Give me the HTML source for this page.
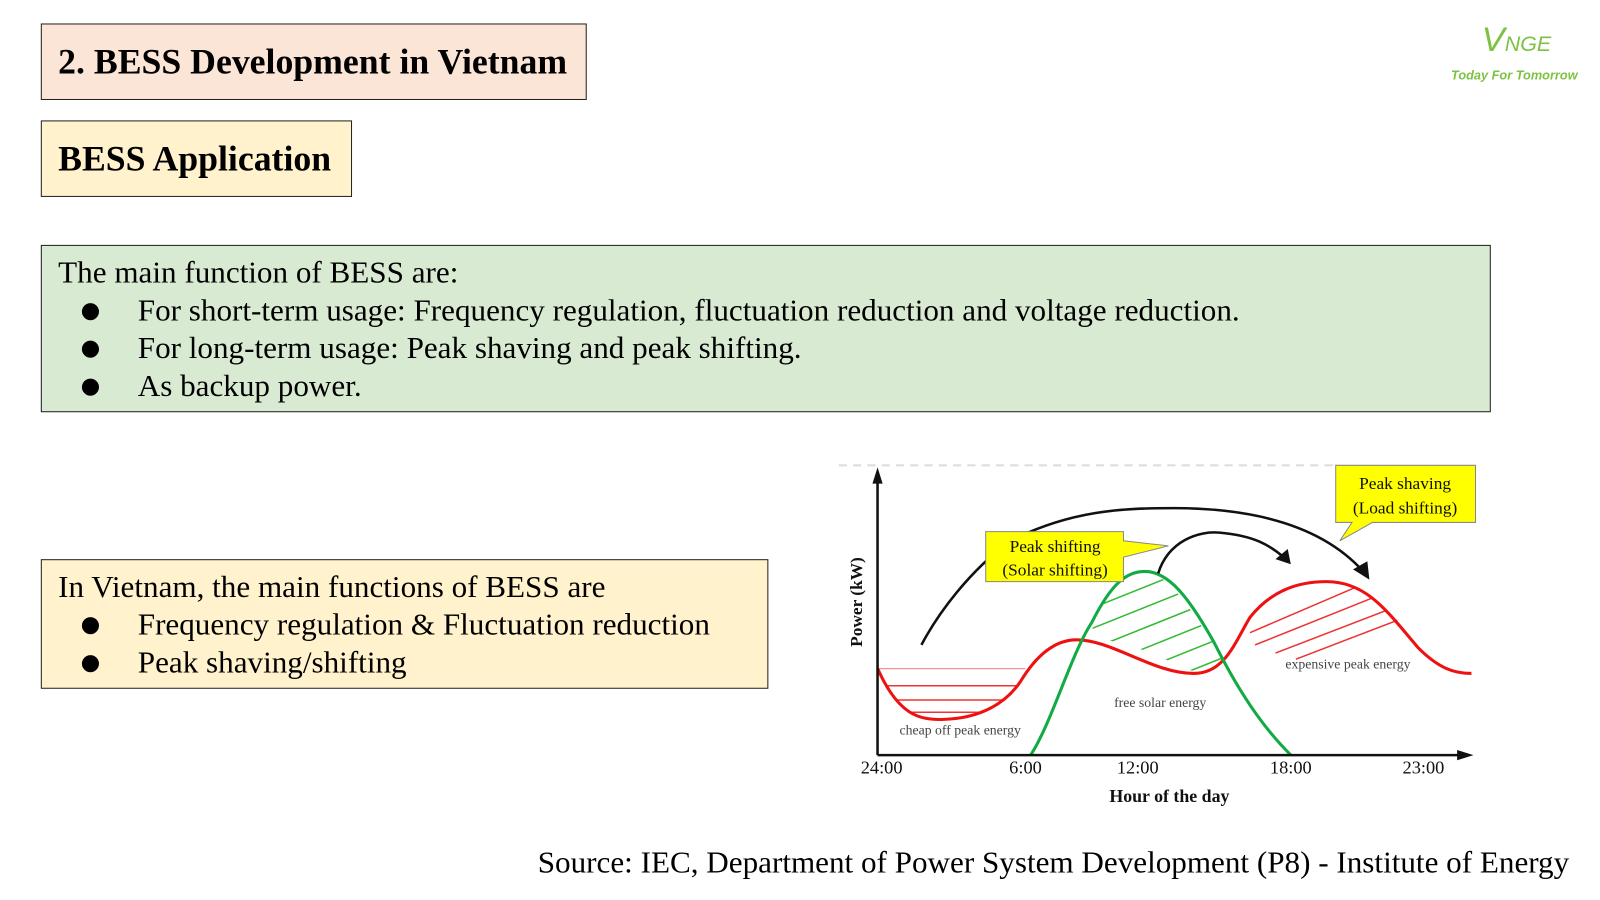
<!DOCTYPE html>
<html><head><meta charset="utf-8"><style>
body{margin:0;width:1600px;height:900px;background:#fff;overflow:hidden;font-family:"Liberation Serif",serif;color:#000}
#w{position:absolute;left:0;top:0;width:1568px;height:882px;transform:scale(1.0204);transform-origin:0 0}
.b{position:absolute;border:1.5px solid #222;box-sizing:border-box}
.t{font-weight:bold;font-size:35px;padding-left:16px}
.txt{font-size:30.5px;line-height:37px;padding:8px 16px}
.li{position:relative;padding-left:78px}
.li:before{content:"●";position:absolute;left:22px;font-size:22px;font-family:"DejaVu Sans",sans-serif}
</style></head><body><div id="w">
<div class="b t" style="left:40px;top:23px;width:535px;height:75px;background:#fbe5d6;line-height:73px">2. BESS Development in Vietnam</div>
<div class="b t" style="left:40px;top:118px;width:305px;height:75px;background:#fff2cc;line-height:73px">BESS Application</div>
<div class="b txt" style="left:40px;top:240px;width:1421px;height:164px;background:#d9ead3;padding-top:8px">
<div>The main function of BESS are:</div>
<div class="li">For short-term usage: Frequency regulation, fluctuation reduction and voltage reduction.</div>
<div class="li">For long-term usage: Peak shaving and peak shifting.</div>
<div class="li">As backup power.</div></div>
<div class="b txt" style="left:40px;top:548px;width:713px;height:127px;background:#fff2cc;padding-top:8px">
<div>In Vietnam, the main functions of BESS are</div>
<div class="li">Frequency regulation &amp; Fluctuation reduction</div>
<div class="li">Peak shaving/shifting</div></div>
<div style="position:absolute;left:1452px;top:20px;color:#7dc242;font-family:'Liberation Sans',sans-serif;font-style:italic;font-size:34px">V<span style="font-size:21px">NGE</span></div>
<div style="position:absolute;left:1422px;top:67px;color:#7dc242;font-family:'Liberation Sans',sans-serif;font-style:italic;font-weight:bold;font-size:12.5px">Today For Tomorrow</div>
<div style="position:absolute;left:527px;top:828px;font-size:30.5px;white-space:nowrap">Source: IEC, Department of Power System Development (P8) - Institute of Energy</div>
<svg style="position:absolute;left:0;top:0" width="1568" height="882">
<defs>
<clipPath id="cl"><path d="M860,655 C880,700 900,706 925,705 C960,704 990,690 1005,655 Z"/></clipPath>
<clipPath id="cg"><path d="M1068,626 C1080,580 1100,560 1120,560 C1150,560 1180,620 1205,655 C1185,660 1165,660 1150,650 C1120,635 1090,626 1068,626 Z"/></clipPath>
<clipPath id="cr"><path d="M1222,612 C1240,585 1270,570 1300,570 C1330,570 1355,590 1380,620 L1300,650 L1225,650 Z"/></clipPath>
</defs>
<line x1="822" y1="456" x2="1310" y2="456" stroke="#ddd" stroke-width="2" stroke-dasharray="8,6"/>
<g clip-path="url(#cl)" stroke="#e33" stroke-width="1.5"><line x1="860" y1="655" x2="1005" y2="655"/><line x1="860" y1="672" x2="1005" y2="672"/><line x1="860" y1="686" x2="1005" y2="686"/><line x1="860" y1="698" x2="1005" y2="698"/></g>
<g clip-path="url(#cg)" stroke="#3b3" stroke-width="1.5"><line x1="1060" y1="600" x2="1160" y2="560"/><line x1="1060" y1="620" x2="1180" y2="572"/><line x1="1080" y1="632" x2="1195" y2="586"/><line x1="1100" y1="644" x2="1210" y2="600"/><line x1="1120" y1="656" x2="1220" y2="616"/><line x1="1140" y1="668" x2="1230" y2="632"/></g>
<g clip-path="url(#cr)" stroke="#e33" stroke-width="1.5"><line x1="1225" y1="620" x2="1330" y2="575"/><line x1="1230" y1="632" x2="1360" y2="580"/><line x1="1250" y1="640" x2="1380" y2="590"/><line x1="1270" y1="646" x2="1390" y2="600"/></g>
<path d="M860,655 C880,700 900,706 925,705 C960,704 985,690 1000,668 C1020,635 1040,627 1055,627 C1090,627 1130,660 1170,660 C1200,660 1210,630 1225,605 C1245,580 1270,570 1300,570 C1340,570 1360,600 1390,635 C1410,655 1425,660 1442,660" fill="none" stroke="#e11" stroke-width="3"/>
<path d="M1010,740 C1030,710 1050,640 1070,610 C1090,570 1105,560 1122,560 C1145,560 1165,585 1190,630 C1220,690 1245,720 1265,740" fill="none" stroke="#1a4" stroke-width="3"/>
<path d="M903,632 C920,600 950,560 990,530 C1050,500 1100,498 1150,498 C1240,498 1300,520 1336,560" fill="none" stroke="#111" stroke-width="2.5"/>
<polygon points="1342,568 1326,558 1340,550" fill="#111"/>
<path d="M1135,562 C1145,530 1175,520 1195,522 C1230,525 1245,535 1258,546" fill="none" stroke="#111" stroke-width="2.5"/>
<polygon points="1265,553 1250,548 1262,538" fill="#111"/>
<line x1="860" y1="740" x2="860" y2="470" stroke="#111" stroke-width="2.5"/>
<polygon points="860,458 855,474 865,474" fill="#111"/>
<line x1="860" y1="740" x2="1432" y2="740" stroke="#111" stroke-width="2.5"/>
<polygon points="1444,740 1428,735 1428,745" fill="#111"/>
<polygon points="966,521 1101,521 1101,530 1145,535 1101,546 1101,570 966,570" fill="#ffff00" stroke="#888" stroke-width="1"/>
<polygon points="1309,456 1446,456 1446,512 1345,512 1313,530 1325,512 1309,512" fill="#ffff00" stroke="#888" stroke-width="1"/>
<g font-family="Liberation Serif,serif" font-size="17" text-anchor="middle" fill="#111">
<text x="1034" y="541">Peak shifting</text><text x="1034" y="564">(Solar shifting)</text>
<text x="1377" y="479">Peak shaving</text><text x="1377" y="503">(Load shifting)</text>
<text x="941" y="720" font-size="13.5" fill="#444">cheap off peak energy</text>
<text x="1137" y="693" font-size="13.5" fill="#444">free solar energy</text>
<text x="1321" y="655" font-size="13.5" fill="#444">expensive peak energy</text>
<text x="864" y="758" font-size="18">24:00</text><text x="1005" y="758" font-size="18">6:00</text><text x="1115" y="758" font-size="18">12:00</text><text x="1265" y="758" font-size="18">18:00</text><text x="1395" y="758" font-size="18">23:00</text>
<text x="1146" y="786" font-size="17.5" font-weight="bold">Hour of the day</text>
<text transform="translate(845,590) rotate(-90)" font-size="17" font-weight="bold">Power (kW)</text>
</g>
</svg>
</div></body></html>
